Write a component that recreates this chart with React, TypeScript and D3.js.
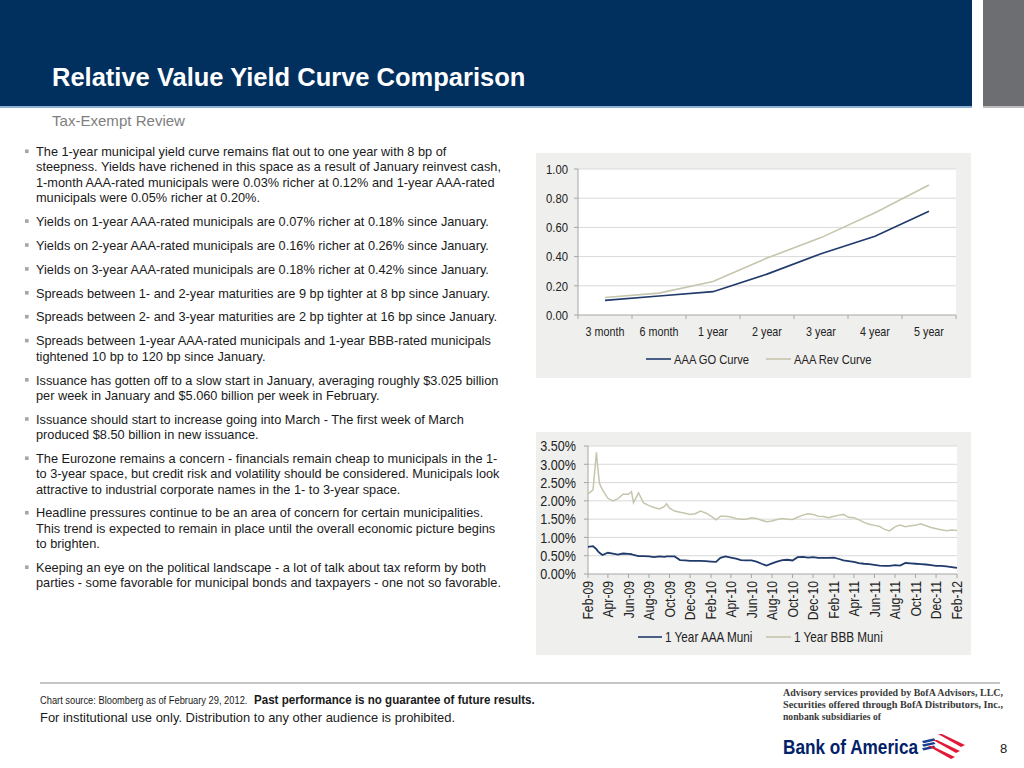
import * as d3 from "d3";

// ---- data ----
const tenors = ["3 month", "6 month", "1 year", "2 year", "3 year", "4 year", "5 year"];
const aaaGoCurve = [0.1, 0.13, 0.16, 0.28, 0.42, 0.54, 0.71];
const aaaRevCurve = [0.12, 0.15, 0.23, 0.39, 0.53, 0.7, 0.89];
const curveTicks = [0, 0.2, 0.4, 0.6, 0.8, 1.0];

const muniDates = [
  "2009-02-01", "2009-02-16", "2009-02-26", "2009-03-01", "2009-03-07", "2009-03-16",
  "2009-04-01", "2009-04-16", "2009-05-01", "2009-05-16", "2009-06-01", "2009-06-10",
  "2009-06-16", "2009-07-01", "2009-07-16", "2009-08-01", "2009-08-16", "2009-09-01",
  "2009-09-16", "2009-09-22", "2009-10-01", "2009-10-16", "2009-11-01", "2009-11-16",
  "2009-12-01", "2009-12-16", "2010-01-01", "2010-01-16", "2010-02-01", "2010-02-16",
  "2010-03-01", "2010-03-16", "2010-04-01", "2010-04-16", "2010-05-01", "2010-05-16",
  "2010-06-01", "2010-06-16", "2010-07-01", "2010-07-16", "2010-08-01", "2010-08-16",
  "2010-09-01", "2010-09-16", "2010-10-01", "2010-10-16", "2010-11-01", "2010-11-16",
  "2010-12-01", "2010-12-16", "2011-01-01", "2011-01-16", "2011-02-01", "2011-02-16",
  "2011-03-01", "2011-03-16", "2011-04-01", "2011-04-16", "2011-05-01", "2011-05-16",
  "2011-06-01", "2011-06-16", "2011-07-01", "2011-07-16", "2011-08-01", "2011-08-16",
  "2011-09-01", "2011-09-16", "2011-10-01", "2011-10-16", "2011-11-01", "2011-11-16",
  "2011-12-01", "2011-12-16", "2012-01-01", "2012-01-16", "2012-02-01",
];
const aaaMuni = [
  0.74, 0.76, 0.68, 0.64, 0.58, 0.52,
  0.58, 0.56, 0.53, 0.56, 0.55, 0.54,
  0.52, 0.49, 0.49, 0.48, 0.46, 0.48,
  0.47, 0.48, 0.48, 0.48, 0.38, 0.37,
  0.36, 0.36, 0.36, 0.35, 0.34, 0.33,
  0.44, 0.48, 0.45, 0.42, 0.38, 0.37,
  0.37, 0.34, 0.28, 0.23, 0.29, 0.34,
  0.38, 0.39, 0.37, 0.46, 0.47, 0.45,
  0.46, 0.44, 0.44, 0.44, 0.45, 0.41,
  0.37, 0.35, 0.33, 0.3, 0.28, 0.27,
  0.25, 0.23, 0.22, 0.22, 0.24, 0.23,
  0.3, 0.29, 0.28, 0.27, 0.26, 0.24,
  0.22, 0.22, 0.21, 0.19, 0.17,
];
const bbbMuni = [
  2.19, 2.3, 3.33, 3.0, 2.48, 2.3,
  2.07, 2.0, 2.06, 2.18, 2.18, 2.25,
  1.95, 2.22, 1.94, 1.87, 1.82, 1.78,
  1.85, 1.92, 1.8, 1.72, 1.69, 1.66,
  1.63, 1.65, 1.72, 1.67, 1.58, 1.48,
  1.58, 1.58, 1.56, 1.52, 1.5, 1.5,
  1.54, 1.52, 1.47, 1.43, 1.45, 1.49,
  1.52, 1.5, 1.49, 1.55, 1.61, 1.65,
  1.63, 1.58, 1.57, 1.54, 1.58, 1.61,
  1.63, 1.55, 1.54, 1.48, 1.41, 1.36,
  1.33, 1.3, 1.22, 1.18, 1.29, 1.34,
  1.29, 1.32, 1.33, 1.37, 1.32, 1.27,
  1.24, 1.21, 1.18, 1.2, 1.19,
];
const muniTicks = [0, 0.5, 1, 1.5, 2, 2.5, 3, 3.5];

const bulletText = [
  [
    "The 1-year municipal yield curve remains flat out to one year with 8 bp of",
    "steepness. Yields have richened in this space as a result of January reinvest cash,",
    "1-month AAA-rated municipals were 0.03% richer at 0.12% and 1-year AAA-rated",
    "municipals were 0.05% richer at 0.20%.",
  ],
  ["Yields on 1-year AAA-rated municipals are 0.07% richer at 0.18% since January."],
  ["Yields on 2-year AAA-rated municipals are 0.16% richer at 0.26% since January."],
  ["Yields on 3-year AAA-rated municipals are 0.18% richer at 0.42% since January."],
  ["Spreads between 1- and 2-year maturities are 9 bp tighter at 8 bp since January."],
  ["Spreads between 2- and 3-year maturities are 2 bp tighter at 16 bp since January."],
  [
    "Spreads between 1-year AAA-rated municipals and 1-year BBB-rated municipals",
    "tightened 10 bp to 120 bp since January.",
  ],
  [
    "Issuance has gotten off to a slow start in January, averaging roughly $3.025 billion",
    "per week in January and $5.060 billion per week in February.",
  ],
  [
    "Issuance should start to increase going into March - The first week of March",
    "produced $8.50 billion in new issuance.",
  ],
  [
    "The Eurozone remains a concern - financials remain cheap to municipals in the 1-",
    "to 3-year space, but credit risk and volatility should be considered. Municipals look",
    "attractive to industrial corporate names in the 1- to 3-year space.",
  ],
  [
    "Headline pressures continue to be an area of concern for certain municipalities.",
    "This trend is expected to remain in place until the overall economic picture begins",
    "to brighten.",
  ],
  [
    "Keeping an eye on the political landscape - a lot of talk about tax reform by both",
    "parties - some favorable for municipal bonds and taxpayers - one not so favorable.",
  ],
];

// ---- styles ----
const SANS = "'Liberation Sans', Arial, sans-serif";
const SERIF = "'Liberation Serif', 'Times New Roman', serif";
const SQUEEZE = 0.84; // no narrow face installed, so squeeze Liberation Sans
const NAVY = "#01305f";
const GO_COLOR = "#1f3a6b";
const REV_COLOR = "#c6c5ad";
const GRID = "#d9d9d9";
const AXIS = "#a6a6a6";

type NTextProps = {
  x: number;
  y: number;
  size: number;
  anchor?: string;
  rotate?: number;
  bold?: boolean;
  squeeze?: number;
  fill?: string;
  dy?: string;
  children: any;
};

// narrow-looking text, like the Arial Narrow of the original
const NText = ({ x, y, size, anchor = "start", rotate, bold, squeeze = SQUEEZE, fill = "#222", dy = "0.35em", children }: NTextProps) => (
  <text
    transform={`translate(${x},${y})${rotate ? ` rotate(${rotate})` : ""} scale(${squeeze},1)`}
    dy={dy}
    textAnchor={anchor}
    fontSize={size}
    fontWeight={bold ? "bold" : "normal"}
    fontFamily={SANS}
    fill={fill}
  >
    {children}
  </text>
);

const CurveChart = () => {
  const x = d3.scaleBand<string>().domain(tenors).range([578, 956]);
  const y = d3.scaleLinear().domain([0, 1]).range([315, 169]);
  const line = d3
    .line<number>()
    .x((_, i) => (x(tenors[i]) as number) + x.bandwidth() / 2)
    .y((d) => y(d));
  const fmt = d3.format(".2f");
  return (
    <g>
      <rect x={536} y={153} width={435} height={225} fill="#efefed" />
      <rect x={578} y={169} width={378} height={146} fill="#fff" />
      {curveTicks.slice(1).map((t) => (
        <line key={t} x1={578} x2={956} y1={y(t)} y2={y(t)} stroke={GRID} />
      ))}
      <line x1={578} x2={578} y1={169} y2={315} stroke={AXIS} />
      {curveTicks.map((t) => (
        <line key={t} x1={574} x2={578} y1={y(t)} y2={y(t)} stroke={AXIS} />
      ))}
      <line x1={578} x2={956} y1={315} y2={315} stroke={AXIS} />
      {tenors.map((t) => (
        <line key={t} x1={x(t)} x2={x(t)} y1={315} y2={319} stroke={AXIS} />
      ))}
      <line x1={956} x2={956} y1={315} y2={319} stroke={AXIS} />
      {curveTicks.map((t) => (
        <NText key={t} x={568} y={y(t)} size={13.5} anchor="end">
          {fmt(t)}
        </NText>
      ))}
      {tenors.map((t) => (
        <NText key={t} x={(x(t) as number) + x.bandwidth() / 2} y={332} size={12.8} anchor="middle">
          {t}
        </NText>
      ))}
      <path d={line(aaaRevCurve) || ""} fill="none" stroke={REV_COLOR} strokeWidth={1.6} />
      <path d={line(aaaGoCurve) || ""} fill="none" stroke={GO_COLOR} strokeWidth={1.6} />
      <line x1={646} x2={671} y1={359} y2={359} stroke={GO_COLOR} strokeWidth={1.6} />
      <NText x={674} y={359} size={13.3}>AAA GO Curve</NText>
      <line x1={766} x2={791} y1={359} y2={359} stroke={REV_COLOR} strokeWidth={1.6} />
      <NText x={794} y={359} size={13.3}>AAA Rev Curve</NText>
    </g>
  );
};

const MuniChart = () => {
  const parse = d3.timeParse("%Y-%m-%d");
  const dates = muniDates.map((d) => parse(d) as Date);
  const start = new Date(2009, 1, 1);
  const end = new Date(2012, 1, 1);
  const x = d3.scaleTime().domain([start, end]).range([588, 957]);
  const y = d3.scaleLinear().domain([0, 3.5]).range([574, 446]);
  const ticks = d3.timeMonth.range(start, new Date(2012, 1, 2), 2);
  const fmtDate = d3.timeFormat("%b-%y");
  const fmtPct = (v: number) => `${v.toFixed(2)}%`;
  const line = d3
    .line<number>()
    .x((_, i) => x(dates[i]))
    .y((d) => y(d));
  return (
    <g>
      <rect x={536} y={432} width={435} height={223} fill="#efefed" />
      <rect x={588} y={446} width={369} height={128} fill="#fff" />
      {muniTicks.slice(1).map((t) => (
        <line key={t} x1={588} x2={957} y1={y(t)} y2={y(t)} stroke={GRID} />
      ))}
      <line x1={588} x2={588} y1={446} y2={574} stroke={AXIS} />
      {muniTicks.map((t) => (
        <line key={t} x1={584} x2={588} y1={y(t)} y2={y(t)} stroke={AXIS} />
      ))}
      <line x1={588} x2={957} y1={574} y2={574} stroke={AXIS} />
      {ticks.map((t) => (
        <line key={+t} x1={x(t)} x2={x(t)} y1={574} y2={578} stroke={AXIS} />
      ))}
      {muniTicks.map((t) => (
        <NText key={t} x={576} y={y(t)} size={15} anchor="end">
          {fmtPct(t)}
        </NText>
      ))}
      {ticks.map((t) => (
        <NText key={+t} x={x(t)} y={581} size={14.5} anchor="end" rotate={-90}>
          {fmtDate(t)}
        </NText>
      ))}
      <path d={line(bbbMuni) || ""} fill="none" stroke={REV_COLOR} strokeWidth={1.5} />
      <path d={line(aaaMuni) || ""} fill="none" stroke={GO_COLOR} strokeWidth={1.8} />
      <line x1={638} x2={662} y1={637} y2={637} stroke={GO_COLOR} strokeWidth={1.6} />
      <NText x={665} y={637} size={14}>1 Year AAA Muni</NText>
      <line x1={766} x2={791} y1={637} y2={637} stroke={REV_COLOR} strokeWidth={1.6} />
      <NText x={794} y={637} size={14}>1 Year BBB Muni</NText>
    </g>
  );
};

const Bullets = () => {
  const items: any[] = [];
  let yPos = 156;
  bulletText.forEach((para, pi) => {
    items.push(<rect key={`b${pi}`} x={25} y={yPos - 6.5} width={3.6} height={3.6} fill="#a6a6a6" />);
    para.forEach((ln, li) => {
      items.push(
        <text key={`t${pi}-${li}`} x={36} y={yPos} fontSize={12.75} fontFamily={SANS} fill="#1a1a1a">
          {ln}
        </text>
      );
      if (li < para.length - 1) yPos += 15.3;
    });
    yPos += 23.9;
  });
  return <g>{items}</g>;
};

const Logo = () => {
  const blue = [0, 1, 2].map((i) => {
    const y0 = 739.5 + i * 3.6;
    return `922,${y0 + 1.5} 934,${y0 - 1.2} 935.5,${y0 + 1} 923.5,${y0 + 3.7}`;
  });
  const red = [0, 1, 2].map((i) => {
    const ox = 938 - i * 5;
    const oy = 734 + i * 6;
    return `${ox},${oy} ${ox + 4},${oy} ${ox + 27},${oy + 11} ${ox + 23},${oy + 13}`;
  });
  return (
    <g>
      <text x={783} y={754} fontSize={21} fontWeight="bold" fontFamily={SANS} fill="#012169" textLength={135} lengthAdjust="spacingAndGlyphs">
        Bank of America
      </text>
      {blue.map((p, i) => (
        <polygon key={`bl${i}`} points={p} fill="#1a3f8f" />
      ))}
      {red.map((p, i) => (
        <polygon key={`rd${i}`} points={p} fill="#e31837" />
      ))}
    </g>
  );
};

export default function App() {
  return (
    <svg width={1024} height={768} style={{ position: "absolute", left: 0, top: 0, background: "#fff" }}>
      <rect x={0} y={0} width={972} height={106} fill={NAVY} />
      <rect x={0} y={106} width={972} height={2} fill="#8fb0d0" />
      <rect x={983} y={0} width={41} height={106} fill="#6d6e71" />
      <rect x={983} y={106} width={41} height={2} fill="#bdbdbd" />
      <text x={52} y={86} fontSize={25.5} fontWeight="bold" fontFamily={SANS} fill="#fff">
        Relative Value Yield Curve Comparison
      </text>
      <text x={52} y={126} fontSize={15} fontFamily={SANS} fill="#7f7f7f" textLength={133} lengthAdjust="spacingAndGlyphs">
        Tax-Exempt Review
      </text>

      <Bullets />
      <CurveChart />
      <MuniChart />

      <line x1={40} x2={1000} y1={683} y2={683} stroke="#8c8c8c" strokeWidth={1.2} />
      <NText x={40} y={704} size={11.5} squeeze={0.81} fill="#1a1a1a" dy="0">
        Chart source: Bloomberg as of February 29, 2012.
      </NText>
      <NText x={254} y={704} size={13} squeeze={0.89} bold fill="#1a1a1a" dy="0">
        Past performance is no guarantee of future results.
      </NText>
      <text x={40} y={722} fontSize={13.5} fontFamily={SANS} fill="#1a1a1a" textLength={415} lengthAdjust="spacingAndGlyphs">
        For institutional use only. Distribution to any other audience is prohibited.
      </text>
      {[
        "Advisory services provided by BofA Advisors, LLC,",
        "Securities offered through BofA Distributors, Inc.,",
        "nonbank subsidiaries of",
      ].map((s, i) => (
        <text
          key={i}
          x={783}
          y={696 + i * 12}
          fontSize={10.5}
          fontWeight="bold"
          fontFamily={SERIF}
          fill="#3a3a3a"
          textLength={i === 2 ? 98 : 220}
          lengthAdjust="spacingAndGlyphs"
        >
          {s}
        </text>
      ))}
      <Logo />
      <text x={1000} y={753} fontSize={13} fontFamily={SANS} fill="#1a1a1a">8</text>
    </svg>
  );
}
